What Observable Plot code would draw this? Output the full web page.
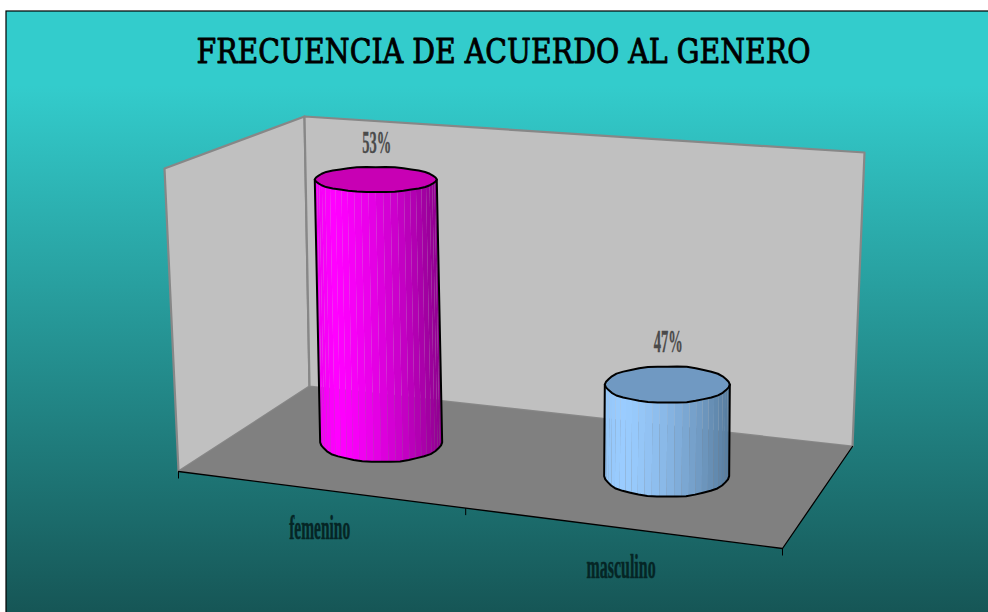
<!DOCTYPE html>
<html><head><meta charset="utf-8">
<script src="https://cdn.jsdelivr.net/npm/d3@7"></script>
<script src="https://cdn.jsdelivr.net/npm/@observablehq/plot@0.6"></script>
<style>html,body{margin:0;padding:0;background:#fff;overflow:hidden}svg{display:block}</style>
</head><body><div id="chart"></div>
<script>
// chart values
const titleText = "FRECUENCIA DE ACUERDO AL GENERO";
const categories = ["femenino", "masculino"];
const values = [53, 47];
const valueLabels = ["53%", "47%"];
const valueDomain = [44, 54];
const categoryTicks = [0, 0.5, 1];

// styles per series
const sideStops = [["#f000f0", "#ff00ff", "#8e008e"], ["#94c6f8", "#9accff", "#567b9d"]];
const topFills = ["#c800b4", "#7099c2"];
const radiiX = [61, 62.5];

// 3D view: corners of the floor and of the top plane (front-left, front-right, back-right, back-left)
const floorQuad = [[178, 471], [782, 548], [852, 446], [309, 386]];
const topQuad = [[164, 168], [799, 216], [864, 152], [304, 116]];
const lean = -1.5;

function homography(q) {
  const [[x0, y0], [x1, y1], [x2, y2], [x3, y3]] = q;
  const dx1 = x1 - x2, dx2 = x3 - x2, sx = x0 - x1 + x2 - x3;
  const dy1 = y1 - y2, dy2 = y3 - y2, sy = y0 - y1 + y2 - y3;
  const den = dx1 * dy2 - dx2 * dy1;
  const g = (sx * dy2 - dx2 * sy) / den, h = (dx1 * sy - sx * dy1) / den;
  return (u, d) => {
    const w = g * u + h * d + 1;
    return [((x1 - x0 + g * x1) * u + (x3 - x0 + h * x3) * d + x0) / w,
            ((y1 - y0 + g * y1) * u + (y3 - y0 + h * y3) * d + y0) / w];
  };
}
const onFloor = homography(floorQuad), onTop = homography(topQuad);
// u across categories, d depth, f share of the wall height
function project(u, d, f) {
  const a = onFloor(u, d), b = onTop(u, d);
  return [a[0] + (b[0] - a[0]) * f, a[1] + (b[1] - a[1]) * f];
}
const share = v => (v - valueDomain[0]) / (valueDomain[1] - valueDomain[0]);
const pt = (u, d, f) => { const [x, y] = project(u, d, f); return {x, y}; };

const leftWall = [pt(0,0,0), pt(0,0,1), pt(0,1,1), pt(0,1,0)];
const backWall = [pt(0,1,0), pt(0,1,1), pt(1,1,1), pt(1,1,0)];
const floor = [pt(0,0,0), pt(1,0,0), pt(1,1,0), pt(0,1,0)];
const floorEdge = [pt(0,0,0), pt(1,0,0), pt(1,1,0)];

// cylinders
const radiusY = y => 12.5 + (y - 180) * 0.027;
const wobble = [1, .975, 1.005, .98, 1.01, .975, 1, .98, 1.015, .975, 1, .97, 1.01, .98, 1.005, .97, 1.015, .98, 1, .97];
function ringAt(c, theta, rx) {
  const t = ((theta % (2 * Math.PI)) + 2 * Math.PI) % (2 * Math.PI);
  const p = t / (2 * Math.PI) * wobble.length, i = Math.floor(p), k = p - i;
  const w = wobble[i % wobble.length] * (1 - k) + wobble[(i + 1) % wobble.length] * k;
  const ry = radiusY(c[1]);
  return {x: c[0] + rx * Math.cos(t) * (0.5 + 0.5 * w), y: c[1] + ry * Math.sin(t) * w * 1.02};
}
const facets = [], tops = [], outlines = [], valueText = [], catText = [];
categories.forEach((cat, i) => {
  const u = (i + 0.5) / categories.length, d = 0.5, rx = radiiX[i];
  const base = project(u, d, 0), top = project(u, d, share(values[i]));
  top[0] += lean;
  const n = 26;
  const shade = t => t < 0.14 ? d3.interpolateRgb(sideStops[i][0], sideStops[i][1])(t / 0.14)
                              : d3.interpolateRgb(sideStops[i][1], sideStops[i][2])(Math.pow((t - 0.14) / 0.86, 1.5));
  for (let j = 0; j < n; j++) {
    const a = Math.PI * (1 - j / n), b = Math.PI * (1 - (j + 1) / n);
    const p1 = ringAt(top, a, rx), p2 = ringAt(top, b, rx), p3 = ringAt(base, b, rx), p4 = ringAt(base, a, rx);
    const color = shade(((p1.x + p2.x) / 2 - (top[0] - rx)) / (2 * rx));
    [p1, p2, p3, p4].forEach(p => facets.push({...p, id: `${i}-${j}`, color}));
  }
  const ringN = 40;
  d3.range(ringN).forEach(j => tops.push({...ringAt(top, 2 * Math.PI * j / ringN, rx), id: i}));
  const arc = d3.range(ringN / 2 + 1).map(j => ringAt(base, Math.PI * (1 - j / (ringN / 2)), rx));
  const rightTop = ringAt(top, 0, rx), leftTop = ringAt(top, Math.PI, rx);
  [leftTop, ...arc, rightTop].forEach(p => outlines.push({...p, id: i}));
  const ry = radiusY(top[1]);
  valueText.push({x: top[0] + 1, y: top[1] - ry - 24, label: valueLabels[i]});
  const f = project(u, 0, 0);
  catText.push({x: f[0] + 1, y: f[1] + 39, label: cat});
});
const ticks = categoryTicks.map(u => { const [x, y] = project(u, 0, 0); return {x, y, y2: y + 7}; });

const gradient = () => {
  const defs = d3.create("svg:defs");
  const g = defs.append("linearGradient").attr("id", "bg").attr("gradientUnits", "userSpaceOnUse")
    .attr("x1", 0).attr("x2", 0).attr("y1", 0).attr("y2", 612);
  [[0.14, "#33cccc"], [1, "#165656"]].forEach(([o, c]) => g.append("stop").attr("offset", o).attr("stop-color", c));
  return defs.node();
};

const chart = Plot.plot({
  width: 988, height: 612, margin: 0,
  x: {domain: [0, 988], range: [0, 988], axis: null},
  y: {domain: [0, 612], range: [0, 612], axis: null},
  style: {background: "transparent"},
  marks: [
    gradient,
    Plot.rect([{x1: 6, x2: 1000, y1: 11, y2: 640}], {x1: "x1", x2: "x2", y1: "y1", y2: "y2", fill: "url(#bg)", stroke: "black", strokeWidth: 1.2}),
    Plot.line(leftWall, {x: "x", y: "y", curve: "linear-closed", fill: "#c0c0c0", stroke: "#878787", strokeWidth: 2.2}),
    Plot.line(backWall, {x: "x", y: "y", curve: "linear-closed", fill: "#c0c0c0", stroke: "#878787", strokeWidth: 2.2}),
    Plot.line(floor, {x: "x", y: "y", curve: "linear-closed", fill: "#808080", stroke: "none"}),
    Plot.line(floorEdge, {x: "x", y: "y", stroke: "black", strokeWidth: 1.3}),
    Plot.link(ticks, {x1: "x", x2: "x", y1: "y", y2: "y2", stroke: "black", strokeWidth: 1}),
    Plot.line(facets, {x: "x", y: "y", z: "id", fill: "color", stroke: "none", curve: "linear-closed"}),
    Plot.line(tops, {x: "x", y: "y", z: "id", curve: "linear-closed", fill: d => topFills[d.id], stroke: "black", strokeWidth: 2}),
    Plot.line(outlines, {x: "x", y: "y", z: "id", stroke: "black", strokeWidth: 2}),
    Plot.text(valueText, {x: "x", y: "y", text: "label", fill: "#4a4a4a", stroke: "#4a4a4a", strokeWidth: 0.4, fontFamily: "Liberation Serif", fontSize: 31, className: "val", fontWeight: 700}),
    Plot.text(catText, {x: "x", y: "y", text: "label", fill: "#052525", stroke: "#052525", strokeWidth: 0.5, fontFamily: "Liberation Serif", fontSize: 34, className: "cat", fontWeight: 700}),
    Plot.text([titleText], {x: () => 503, y: () => 52, text: d => d, fill: "black", stroke: "black", strokeWidth: 0.9, fontFamily: "DejaVu Serif", fontSize: 34, className: "ttl"})
  ]
});
document.getElementById("chart").appendChild(chart);
const squeeze = (cls, lens) => chart.querySelectorAll(`.${cls} text`).forEach((t, i) => {
  t.setAttribute("textLength", lens[i]); t.setAttribute("lengthAdjust", "spacingAndGlyphs");
});
squeeze("val", [29, 29]);
squeeze("cat", [61, 69]);
squeeze("ttl", [614]);
</script></body></html>
